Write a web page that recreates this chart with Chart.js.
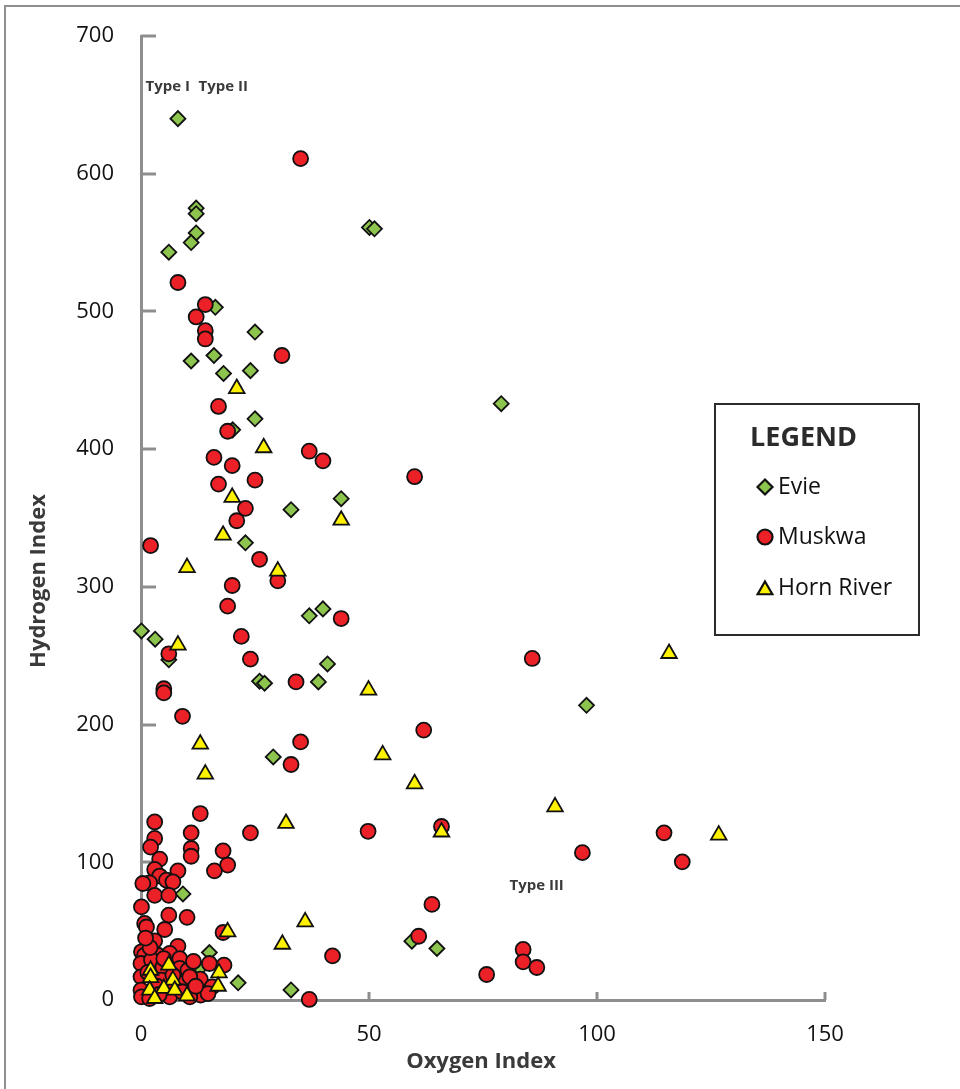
<!DOCTYPE html>
<html>
<head>
<meta charset="utf-8">
<script src="https://cdn.jsdelivr.net/npm/chart.js@4/dist/chart.umd.min.js"></script>
<style>
  html, body { margin: 0; padding: 0; background: #ffffff; }
  #wrap { position: relative; width: 960px; height: 1089px; }
  #frame { position: absolute; left: 4px; top: 5px; width: 980px; height: 1100px;
           border-left: 2px solid #8f8f8f; border-top: 2px solid #8f8f8f; box-sizing: border-box; }
  canvas { position: absolute; left: 0; top: 0; }
</style>
</head>
<body>
<div id="wrap">
  <div id="frame"></div>
  <canvas id="c" width="960" height="1089"></canvas>
</div>
<script>
// Rock-Eval pyrolysis results: Oxygen Index (mg CO2/g TOC) vs Hydrogen Index (mg HC/g TOC)
const seriesNames = ['Evie', 'Muskwa', 'Horn River'];

const evieOI = [8.1, 12.1, 12.1, 12.1, 11.0, 6.1, 50.1, 51.2, 16.3, 25.0, 11.0, 16.0, 18.1, 24.0, 79.0,
  25.0, 20.1, 43.9, 32.9, 22.9, 39.9, 36.9, 0.1, 3.1, 6.1, 40.9, 38.9, 26.0, 27.1, 97.7, 29.0, 9.2,
  15.0, 12.9, 21.3, 59.4, 64.9, 32.9];
const evieHI = [640, 575, 571, 557, 550, 543, 561, 560, 503, 485, 464, 468, 455, 457, 433,
  422, 414, 364, 356, 332, 284, 279, 268, 262, 247, 244, 231, 231.5, 230, 214, 176.5, 77,
  34.5, 23, 12.5, 42.7, 37.4, 7.3];

const muskwaOI = [35.0, 8.1, 14.1, 12.1, 14.1, 14.1, 30.9, 17.0, 19.0, 16.0, 20.0, 17.0, 25.0, 36.9, 39.9,
  60.0, 22.9, 21.0, 2.1, 26.0, 30.0, 20.0, 19.0, 43.9, 22.0, 24.0, 6.1, 5.0, 5.0, 34.0, 85.8, 9.1,
  62.0, 35.0, 32.9, 13.0, 3.0, 3.0, 2.1, 11.0, 11.0, 11.0, 24.0, 49.8, 65.9, 114.7, 96.8, 118.7,
  18.0, 19.0, 16.1, 4.1, 8.1, 3.0, 4.1, 1.9, 5.6, 7.0, 0.4, 3.0, 6.1, 0.1, 6.1, 10.1, 0.8, 1.2,
  5.2, 3.0, 18.0, 8.1, 0.1, 0.8, 3.7, 6.3, 8.5, 0.0, 2.3, 4.8, 8.5, 10.3, 15.0, 18.2, 13.0, 15.6,
  13.1, 0.0, 0.0, 0.1, 4.5, 6.3, 8.5, 10.7, 10.7, 1.9, 6.3, 14.7, 1.5, 3.5, 5.0, 2.0, 7.0, 9.0,
  12.0, 1.0, 11.5, 4.0, 63.8, 60.9, 42.0, 83.8, 83.8, 86.8, 75.8, 36.9];
const muskwaHI = [611, 521, 505, 496, 486, 480, 468, 431, 413, 394, 388, 374.6, 377.5, 398.5, 391.5,
  380, 357, 348, 330, 320, 304.4, 301, 286, 277, 264, 247.5, 251.4, 226, 223, 231, 248, 206,
  196, 187.4, 171, 135.4, 129.3, 117.3, 111, 121.4, 110, 104.4, 121.4, 122.5, 126, 121.4, 107, 100.3,
  108.3, 98, 93.8, 102.3, 93.8, 94.8, 90, 85, 87, 85.8, 84.6, 76, 76, 67.6, 61.6, 60, 55.6, 53,
  51.2, 43, 49, 39, 35, 32.5, 32.5, 33.8, 30, 26.5, 29, 24, 23, 21.6, 26.5, 25.3, 15.1, 9.5,
  3.5, 16.8, 7.1, 2.3, 14.4, 7.1, 12, 16.8, 2.3, 1.1, 2.3, 4.7, 20, 10, 30, 38, 18, 6,
  10, 45, 28, 4, 69.4, 46.3, 32, 36.7, 27.7, 23.6, 18.5, 0.4];

const hornOI = [21.0, 26.9, 20.0, 43.9, 18.0, 10.1, 30.0, 8.1, 49.9, 115.8, 13.0, 14.1, 53.0, 60.0, 90.8,
  126.7, 65.9, 31.8, 36.0, 19.0, 31.0, 2.1, 6.1, 2.1, 7.0, 17.1, 16.9, 1.9, 5.0, 7.4, 10.1, 3.0];
const hornHI = [444, 401, 365, 348.4, 337.5, 314, 311.4, 257.7, 225, 251.6, 185.8, 164, 178, 157, 140.2,
  119.7, 122, 128.2, 56.7, 49.5, 40.5, 21.6, 25.3, 16.3, 14.4, 19.7, 10, 7.1, 8.4, 7.1, 3, 1.1];

const xTicks = [0, 50, 100, 150];
const yTicks = [0, 100, 200, 300, 400, 500, 600, 700];

// Kerogen type annotations placed in data space
const typeLabels = [
  { text: 'Type I', x: 1.0, y: 663 },
  { text: 'Type II', x: 12.6, y: 663 },
  { text: 'Type III', x: 80.8, y: 83 }
];

const colors = {
  evie: '#8dc44e',
  muskwa: '#ec2027',
  horn: '#fff200',
  edge: '#111111',
  axis: '#8e8e8e',
  text: '#111111',
  title: '#3a3a3a'
};

const FONT = '"Open Sans", "DejaVu Sans", sans-serif';

function pairs(xs, ys) { return xs.map((x, i) => ({ x: x, y: ys[i] })); }

// Inward tick marks on both axes
const innerTicks = {
  id: 'innerTicks',
  beforeDatasetsDraw(chart) {
    const { ctx, chartArea, scales } = chart;
    ctx.save();
    ctx.strokeStyle = colors.axis;
    ctx.lineWidth = 3;
    yTicks.forEach(v => {
      if (v === 0) return;
      const py = Math.round(scales.y.getPixelForValue(v));
      ctx.beginPath();
      ctx.moveTo(chartArea.left, py);
      ctx.lineTo(chartArea.left + 15, py);
      ctx.stroke();
    });
    xTicks.forEach(v => {
      if (v === 0) return;
      const px = Math.round(scales.x.getPixelForValue(v));
      ctx.beginPath();
      ctx.moveTo(px, chartArea.bottom);
      ctx.lineTo(px, chartArea.bottom - 8);
      ctx.stroke();
    });
    ctx.restore();
  }
};

function drawMarker(ctx, kind, x, y) {
  ctx.beginPath();
  if (kind === 'diamond') {
    const r = 7.5;
    ctx.moveTo(x - r, y); ctx.lineTo(x, y - r); ctx.lineTo(x + r, y); ctx.lineTo(x, y + r); ctx.closePath();
    ctx.fillStyle = colors.evie;
  } else if (kind === 'circle') {
    ctx.arc(x, y, 7.5, 0, Math.PI * 2);
    ctx.fillStyle = colors.muskwa;
  } else {
    const r = 8.5;
    ctx.moveTo(x, y - r);
    ctx.lineTo(x + r * Math.sin(2 * Math.PI / 3), y + r / 2);
    ctx.lineTo(x - r * Math.sin(2 * Math.PI / 3), y + r / 2);
    ctx.closePath();
    ctx.fillStyle = colors.horn;
  }
  ctx.fill();
  ctx.lineWidth = 2.2;
  ctx.strokeStyle = colors.edge;
  ctx.stroke();
}

// Axis titles, kerogen type labels and the boxed legend
const annotations = {
  id: 'annotations',
  afterDraw(chart) {
    const { ctx, scales } = chart;
    ctx.save();

    ctx.fillStyle = colors.title;
    ctx.font = 'bold 22px ' + FONT;
    ctx.textAlign = 'center';
    ctx.textBaseline = 'middle';
    ctx.fillText('Oxygen Index', 481, 1062);
    ctx.save();
    ctx.translate(39, 581);
    ctx.rotate(-Math.PI / 2);
    ctx.fillText('Hydrogen Index', 0, 0);
    ctx.restore();

    ctx.font = 'bold 15px ' + FONT;
    ctx.textAlign = 'left';
    typeLabels.forEach(t => {
      ctx.fillText(t.text, scales.x.getPixelForValue(t.x), scales.y.getPixelForValue(t.y));
    });

    // legend box
    const bx = 715, by = 404, bw = 204, bh = 231;
    ctx.lineWidth = 2;
    ctx.strokeStyle = '#2b2b2b';
    ctx.strokeRect(bx, by, bw, bh);

    ctx.fillStyle = '#2b2b2b';
    ctx.font = 'bold 27px ' + FONT;
    ctx.textAlign = 'left';
    ctx.fillText('LEGEND', 750, 438);

    const kinds = ['diamond', 'circle', 'triangle'];
    const rows = [487, 537, 588];
    ctx.font = '23px ' + FONT;
    seriesNames.forEach((name, i) => {
      drawMarker(ctx, kinds[i], 765, rows[i] + (kinds[i] === 'triangle' ? 2 : 0));
      ctx.fillStyle = colors.text;
      ctx.fillText(name, 778, rows[i]);
    });

    ctx.restore();
  }
};

const common = {
  pointBorderColor: colors.edge,
  pointBorderWidth: 1.8,
  pointHoverRadius: 8,
  showLine: false,
  clip: false
};

new Chart(document.getElementById('c'), {
  type: 'scatter',
  data: {
    datasets: [
      Object.assign({
        label: seriesNames[0], data: pairs(evieOI, evieHI), order: 3,
        pointStyle: 'rectRot', pointRadius: 7.5, pointBackgroundColor: colors.evie
      }, common),
      Object.assign({
        label: seriesNames[1], data: pairs(muskwaOI, muskwaHI), order: 2,
        pointStyle: 'circle', pointRadius: 7.5, pointBackgroundColor: colors.muskwa
      }, common),
      Object.assign({
        label: seriesNames[2], data: pairs(hornOI, hornHI), order: 1,
        pointStyle: 'triangle', pointRadius: 9, pointBackgroundColor: colors.horn
      }, common)
    ]
  },
  options: {
    responsive: false,
    animation: false,
    devicePixelRatio: 1,
    layout: { padding: { top: 36, right: 135, left: 0, bottom: 0 } },
    plugins: { legend: { display: false }, tooltip: { enabled: false } },
    scales: {
      x: {
        type: 'linear', min: 0, max: 150,
        afterFit(scale) { scale.height = 89; scale.paddingLeft = 0; scale.paddingRight = 0; },
        afterBuildTicks(scale) { scale.ticks = xTicks.map(v => ({ value: v })); },
        grid: { display: true, drawOnChartArea: false, drawTicks: false },
        border: { display: true, color: colors.axis, width: 3 },
        ticks: { color: colors.text, font: { family: FONT, size: 22 }, padding: 22, maxRotation: 0 }
      },
      y: {
        type: 'linear', min: 0, max: 700,
        afterFit(scale) { scale.width = 141; scale.paddingTop = 0; scale.paddingBottom = 0; },
        afterBuildTicks(scale) { scale.ticks = yTicks.map(v => ({ value: v })); },
        grid: { display: true, drawOnChartArea: false, drawTicks: false },
        border: { display: true, color: colors.axis, width: 3 },
        ticks: { color: colors.text, font: { family: FONT, size: 22 }, padding: 27 }
      }
    }
  },
  plugins: [innerTicks, annotations]
});
</script>
</body>
</html>
